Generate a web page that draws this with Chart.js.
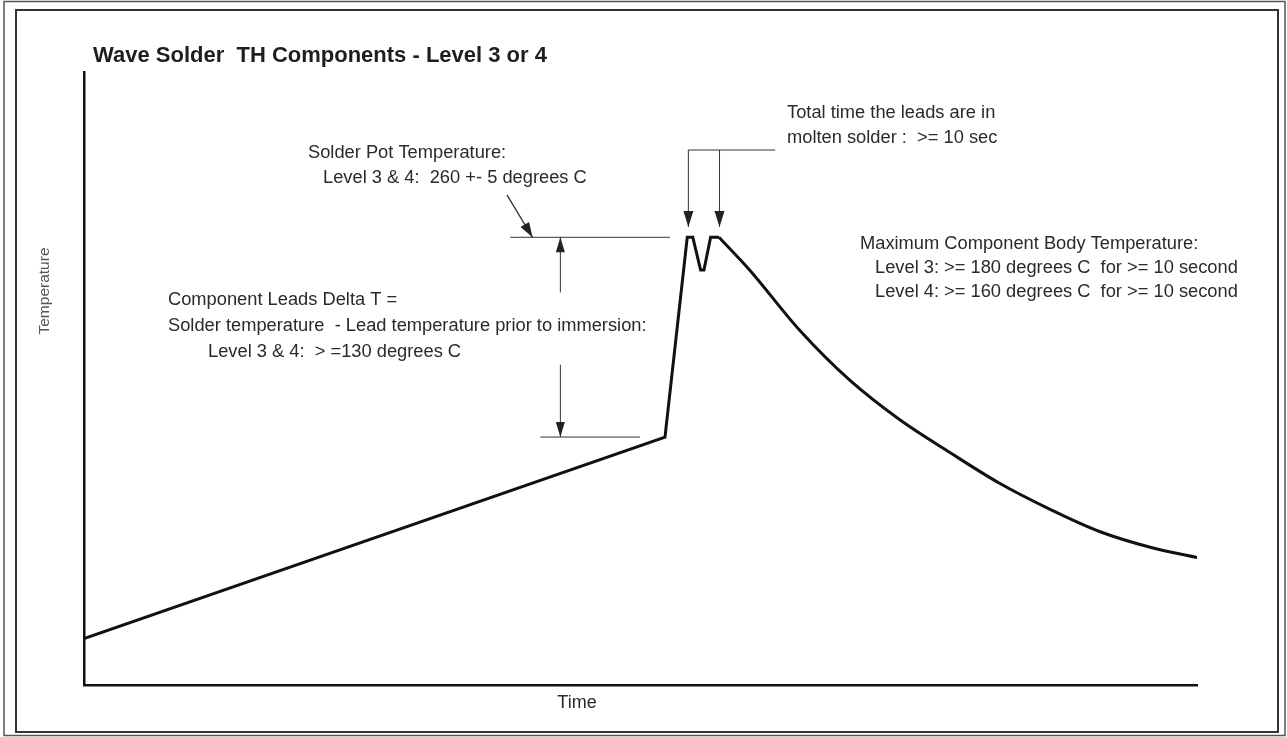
<!DOCTYPE html>
<html>
<head>
<meta charset="utf-8">
<script src="https://cdn.jsdelivr.net/npm/chart.js@4.4.0/dist/chart.umd.min.js"></script>
<style>
  html, body { margin: 0; padding: 0; background: #fff; }
  #wrap { width: 1287px; height: 737px; }
</style>
</head>
<body>
<div id="wrap"><canvas id="profileChart"></canvas></div>
<script>
// profile: time (arbitrary 0-100) vs temperature (deg C, schematic)
const rampTime = [0, 52.2, 54.2, 54.7, 55.4, 55.7, 56.3, 57.05];
const rampTemp = [27, 144, 260, 260, 241, 241, 260, 260];
const coolTime = [57.05, 59.8, 64.3, 68.8, 73.3, 77.8, 82.3, 86.8, 91.3, 95.8, 100];
const coolTemp = [260, 241, 206, 177, 154, 135, 117, 102, 89, 80, 74];

const potTemp = 260;     // solder pot temperature
const leadTemp = 144;    // lead temperature prior to immersion

const toPoints = (xs, ys) => xs.map((x, i) => ({ x: x, y: ys[i] }));

const FONT = '"Liberation Sans", Arial, Helvetica, sans-serif';
const INK = "#1e1e1e";

function arrowHead(ctx, x0, y0, x1, y1, len, half) {
    const a = Math.atan2(y1 - y0, x1 - x0);
    ctx.beginPath();
    ctx.moveTo(x1, y1);
    ctx.lineTo(x1 - len * Math.cos(a) + half * Math.sin(a), y1 - len * Math.sin(a) - half * Math.cos(a));
    ctx.lineTo(x1 - len * Math.cos(a) - half * Math.sin(a), y1 - len * Math.sin(a) + half * Math.cos(a));
    ctx.closePath();
    ctx.fill();
}

const notes = {
    id: "notes",
    beforeDraw(chart) {
        const ctx = chart.ctx;
        ctx.save();
        ctx.strokeStyle = "#555";
        ctx.lineWidth = 1.5;
        ctx.strokeRect(4, 1.5, 1281, 734);
        ctx.strokeStyle = "#333";
        ctx.lineWidth = 2;
        ctx.strokeRect(16, 10, 1262, 722);
        ctx.restore();
    },
    afterDatasetsDraw(chart) {
        const ctx = chart.ctx;
        const xs = chart.scales.x, ys = chart.scales.y;
        const X = v => xs.getPixelForValue(v);
        const Y = v => ys.getPixelForValue(v);

        ctx.save();
        ctx.strokeStyle = "#333";
        ctx.fillStyle = "#222";
        ctx.lineWidth = 1;

        const line = (t0, v0, t1, v1) => {
            ctx.beginPath();
            ctx.moveTo(X(t0), Y(v0));
            ctx.lineTo(X(t1), Y(v1));
            ctx.stroke();
        };

        // reference levels
        line(38.3, potTemp, 52.65, potTemp);
        line(41.0, leadTemp, 49.95, leadTemp);

        // delta T double arrow
        line(42.8, potTemp, 42.8, 228);
        line(42.8, 186, 42.8, leadTemp);
        arrowHead(ctx, X(42.8), Y(228), X(42.8), Y(potTemp), 15, 4.5);
        arrowHead(ctx, X(42.8), Y(186), X(42.8), Y(leadTemp), 15, 4.5);

        // pointer to pot temperature
        ctx.lineWidth = 1.3;
        line(38.0, 284.6, 40.3, potTemp);
        arrowHead(ctx, X(38.0), Y(284.6), X(40.3), Y(potTemp), 15, 5);
        ctx.lineWidth = 1;

        // dwell time bracket
        line(54.3, 310.7, 62.1, 310.7);
        line(54.3, 310.7, 54.3, 266);
        line(57.1, 310.7, 57.1, 266);
        arrowHead(ctx, X(54.3), Y(300), X(54.3), Y(266), 16, 5);
        arrowHead(ctx, X(57.1), Y(300), X(57.1), Y(266), 16, 5);

        // texts
        ctx.fillStyle = INK;
        ctx.textBaseline = "middle";
        ctx.textAlign = "left";
        ctx.font = "bold 22px " + FONT;
        ctx.fillText("Wave Solder  TH Components - Level 3 or 4", 93, 56);

        ctx.font = "18.3px " + FONT;
        ctx.fillStyle = "#2a2a2a";
        ctx.fillText("Solder Pot Temperature:", 308, 153);
        ctx.fillText("Level 3 & 4:  260 +- 5 degrees C", 323, 178);

        ctx.fillText("Total time the leads are in", 787, 113);
        ctx.fillText("molten solder :  >= 10 sec", 787, 138);

        ctx.fillText("Maximum Component Body Temperature:", 860, 244);
        ctx.fillText("Level 3: >= 180 degrees C  for >= 10 second", 875, 268);
        ctx.fillText("Level 4: >= 160 degrees C  for >= 10 second", 875, 292);

        ctx.fillText("Component Leads Delta T =", 168, 300);
        ctx.fillText("Solder temperature  - Lead temperature prior to immersion:", 168, 326);
        ctx.fillText("Level 3 & 4:  > =130 degrees C", 208, 352);

        ctx.font = "18px " + FONT;
        ctx.textAlign = "center";
        ctx.fillText("Time", 577, 703);

        ctx.translate(45, 291);
        ctx.rotate(-Math.PI / 2);
        ctx.fillStyle = "#555";
        ctx.font = "15.5px " + FONT;
        ctx.fillText("Temperature", 0, 0);
        ctx.restore();
    }
};

document.addEventListener("DOMContentLoaded", () => {
    const ctx = document.getElementById("profileChart").getContext("2d");
    const chart = new Chart(ctx, {
        type: "line",
        data: {
            datasets: [{
                label: "Heating",
                data: toPoints(rampTime, rampTemp),
                borderColor: "#111",
                borderWidth: 3,
                pointRadius: 0,
                tension: 0
            }, {
                label: "Cooling",
                data: toPoints(coolTime, coolTemp),
                borderColor: "#111",
                borderWidth: 3,
                pointRadius: 0,
                cubicInterpolationMode: "monotone"
            }]
        },
        options: {
            responsive: true,
            maintainAspectRatio: false,
            animation: false,
            layout: {
                padding: { top: 72, right: 90, bottom: 0, left: 0 }
            },
            scales: {
                x: {
                    type: "linear",
                    min: 0,
                    max: 100,
                    grid: { display: false },
                    ticks: { display: false },
                    border: { display: true, color: "#111", width: 2.5 },
                    afterFit: s => { s.height = 52; }
                },
                y: {
                    min: 0,
                    max: 356,
                    grid: { display: false },
                    ticks: { display: false },
                    border: { display: true, color: "#111", width: 2.5 },
                    afterFit: s => { s.width = 84; }
                }
            },
            plugins: {
                legend: { display: false },
                tooltip: { enabled: false }
            }
        },
        plugins: [notes]
    });
});
</script>
</body>
</html>
